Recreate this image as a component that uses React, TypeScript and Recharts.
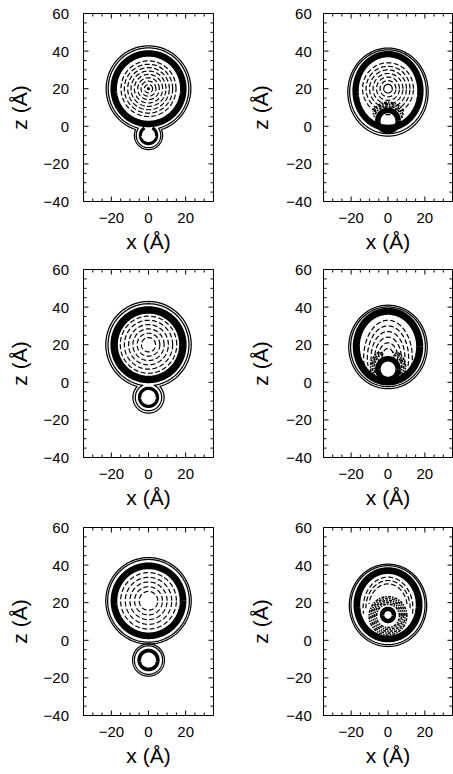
import React from 'react';
import { LineChart, Line, XAxis, YAxis } from 'recharts';

// ---- axes -------------------------------------------------------------
const X_DOMAIN: [number, number] = [-35, 35];
const Z_DOMAIN: [number, number] = [-40, 60];
const X_LABELED = [-20, 0, 20];
const X_TICKS = [-30, -25, -20, -15, -10, -5, 0, 5, 10, 15, 20, 25, 30];
const Z_LABELED = [-40, -20, 0, 20, 40, 60];
const Z_TICKS = [-40, -35, -30, -25, -20, -15, -10, -5, 0, 5, 10, 15, 20, 25, 30, 35, 40, 45, 50, 55, 60];
const X_TITLE = 'x (Å)';
const Z_TITLE = 'z (Å)';

// ---- contour geometry (Å) ---------------------------------------------
type Ring = { cx: number; cz: number; rx: number; rz: number; a0?: number; a1?: number };
type Band = Ring & { w: number };
type Pt = { x: number; z: number };

// panel a: droplet with a small attached bubble below
const A_OUTER: Ring[][] = [
  [{ cx: 0, cz: 20, rx: 22.8, rz: 22.8 }, { cx: 0, cz: -4.8, rx: 7.6, rz: 7.6 }],
  [{ cx: 0, cz: 20, rx: 21.7, rz: 21.7 }, { cx: 0, cz: -4.8, rx: 6.6, rz: 6.6 }],
];
const A_BANDS: Band[] = [
  { cx: 0, cz: 20, rx: 18.75, rz: 18.75, w: 3.5 },
  { cx: 0, cz: -4.8, rx: 4.4, rz: 4.4, w: 1.7, a0: 118, a1: 422 },
];
const A_DASHED_R = [2.2, 4.0, 5.8, 7.6, 9.4, 11.2, 13.0, 14.8];
const A_CENTER: Pt = { x: 0, z: 20 };

// panel b: bubble drawn into the droplet
const B_OUTER: Ring[][] = [
  [{ cx: 0, cz: 18.2, rx: 21.8, rz: 23.4 }],
  [{ cx: 0, cz: 18.4, rx: 20.8, rz: 22.3 }],
];
const B_BANDS: Band[] = [
  { cx: 0, cz: 18.8, rx: 17.6, rz: 19.6, w: 3.4 },
  { cx: 0, cz: 3, rx: 5.5, rz: 5.5, w: 3 },
];
const B_DASHED_R = [4.3, 6.2, 8.1, 10.0, 11.9, 13.8];
const B_SOLID_R = [2.3];
const B_HATCH: Ring[] = [
  { cx: 0, cz: 3, rx: 7.8, rz: 7.8, a0: 10, a1: 170 },
  { cx: 0, cz: 3, rx: 8.8, rz: 8.8, a0: 20, a1: 160 },
  { cx: 0, cz: 3, rx: 9.8, rz: 9.8, a0: 30, a1: 150 },
];

// panel c: droplet and separated bubble touching through a neck
const C_OUTER: Ring[][] = [
  [{ cx: 0, cz: 20, rx: 23, rz: 23 }, { cx: 0, cz: -8, rx: 8.4, rz: 8.4 }],
  [{ cx: 0, cz: 20, rx: 21.8, rz: 21.8 }, { cx: 0, cz: -8, rx: 7.1, rz: 7.1 }],
];
const C_BANDS: Band[] = [
  { cx: 0, cz: 20, rx: 18.5, rz: 18.5, w: 4 },
  { cx: 0, cz: -8, rx: 4.8, rz: 4.8, w: 1.8 },
];
const C_DASHED_R = [3.8, 6.1, 8.4, 10.7, 13.0, 15.2];

// panel d: bubble deeper inside the droplet
const D_OUTER: Ring[][] = [
  [{ cx: 0, cz: 18.8, rx: 21.3, rz: 22.2 }],
  [{ cx: 0, cz: 18.9, rx: 20.3, rz: 21.2 }],
];
const D_BANDS: Band[] = [
  { cx: 0, cz: 19, rx: 17.2, rz: 18.8, w: 3.8 },
  { cx: 0, cz: 7, rx: 5.5, rz: 5.5, w: 3 },
];
const D_ARCHES: Ring[] = [
  { cx: 0, cz: 13, rx: 3.2, rz: 5, a0: -15, a1: 195 },
  { cx: 0, cz: 13, rx: 5.2, rz: 8, a0: -15, a1: 195 },
  { cx: 0, cz: 13, rx: 7.2, rz: 11, a0: -15, a1: 195 },
  { cx: 0, cz: 13, rx: 9.2, rz: 14, a0: -15, a1: 195 },
  { cx: 0, cz: 13, rx: 11.2, rz: 17, a0: -15, a1: 195 },
  { cx: 0, cz: 13, rx: 13.2, rz: 20, a0: -15, a1: 195 },
];
const D_HATCH: Ring[] = [
  { cx: 0, cz: 8, rx: 7.5, rz: 7.5, a0: -30, a1: 70 },
  { cx: 0, cz: 8, rx: 8.5, rz: 8.5, a0: -30, a1: 70 },
  { cx: 0, cz: 8, rx: 9.5, rz: 9.5, a0: -20, a1: 60 },
  { cx: 0, cz: 8, rx: 7.5, rz: 7.5, a0: 110, a1: 210 },
  { cx: 0, cz: 8, rx: 8.5, rz: 8.5, a0: 110, a1: 210 },
  { cx: 0, cz: 8, rx: 9.5, rz: 9.5, a0: 120, a1: 200 },
];

// panel e: droplet and detached bubble
const E_OUTER: Ring[][] = [
  [{ cx: 0, cz: 21, rx: 23, rz: 23 }],
  [{ cx: 0, cz: 21, rx: 22, rz: 22 }],
  [{ cx: 0, cz: -10.5, rx: 8.6, rz: 8.6 }],
  [{ cx: 0, cz: -10.5, rx: 7.6, rz: 7.6 }],
];
const E_BANDS: Band[] = [
  { cx: 0, cz: 21, rx: 18.6, rz: 18.6, w: 3.6 },
  { cx: 0, cz: -10.5, rx: 5, rz: 5, w: 2 },
];
const E_DASHED_R = [5, 7.5, 10, 12.5, 15];
const E_CENTER: Pt = { x: 0, z: 21 };

// panel f: bubble trapped near the droplet centre
const F_OUTER: Ring[][] = [
  [{ cx: 0, cz: 18.6, rx: 21, rz: 21.9 }],
  [{ cx: 0, cz: 18.7, rx: 20.1, rz: 21 }],
];
const F_BANDS: Band[] = [
  { cx: 0, cz: 18.9, rx: 16.9, rz: 18.2, w: 3.6 },
  { cx: 0, cz: 13.5, rx: 3.2, rz: 3.2, w: 2.4 },
];
const F_DASHED: Ring[] = [
  { cx: 0, cz: 17, rx: 10.5, rz: 13, a0: 10, a1: 170 },
  { cx: 0, cz: 17, rx: 12, rz: 14.8, a0: 0, a1: 180 },
  { cx: 0, cz: 17, rx: 13.5, rz: 16.6, a0: -10, a1: 190 },
];
const F_HATCH_R = [6.2, 7.2, 8.2, 9.2, 10.2];
const F_HATCH_CENTER: Pt = { x: 0, z: 13 };

// ---- layout (px) ------------------------------------------------------
const PLOT_H = 188;
const AXIS_W = 83.5;
const TOP_PAD = 13.5;
const BOTTOM_H = 55;
const RIGHT_PAD = 13;
const EDGE = 1; // thickness reserved for the mirrored top / right axes
const PX = 1.87;
const ROW_TOPS = [0, 256, 514];
const COLS = [
  { left: 0, plotW: 130, tickGap: 14.5, titleGap: 56.8 },
  { left: 240, plotW: 129, tickGap: 11.7, titleGap: 55.2 },
];
const FONT = '"Liberation Sans", Arial, Helvetica, sans-serif';

// ---- geometry helpers ---------------------------------------------------
const ringPoints = (r: Ring, n = 160): Pt[] => {
  const a0 = r.a0 ?? 0;
  const a1 = r.a1 ?? 360;
  const pts: Pt[] = [];
  for (let i = 0; i <= n; i++) {
    const t = ((a0 + ((a1 - a0) * i) / n) * Math.PI) / 180;
    pts.push({ x: r.cx + r.rx * Math.cos(t), z: r.cz + r.rz * Math.sin(t) });
  }
  return pts;
};

const inside = (r: Ring, p: Pt) => ((p.x - r.cx) / r.rx) ** 2 + ((p.z - r.cz) / r.rz) ** 2 < 1;

// outline of a union of overlapping ellipses, traced by rays from a shared inner point
const unionPoints = (parts: Ring[], n = 240): Pt[] => {
  if (parts.length === 1) return ringPoints(parts[0], n);
  const a = parts[0];
  const b = parts[1];
  const hits: Pt[] = [];
  for (let i = 0; i <= 400; i++) {
    const p = { x: a.cx + ((b.cx - a.cx) * i) / 400, z: a.cz + ((b.cz - a.cz) * i) / 400 };
    if (parts.every((r) => inside(r, p))) hits.push(p);
  }
  const o = hits[Math.floor(hits.length / 2)];
  const pts: Pt[] = [];
  for (let i = 0; i <= n; i++) {
    const phi = (2 * Math.PI * i) / n;
    const dx = Math.cos(phi);
    const dz = Math.sin(phi);
    let best = 0;
    for (const r of parts) {
      const ox = (o.x - r.cx) / r.rx;
      const oz = (o.z - r.cz) / r.rz;
      const ux = dx / r.rx;
      const uz = dz / r.rz;
      const A = ux * ux + uz * uz;
      const B = 2 * (ox * ux + oz * uz);
      const C = ox * ox + oz * oz - 1;
      const disc = B * B - 4 * A * C;
      if (disc < 0) continue;
      const t = (-B + Math.sqrt(disc)) / (2 * A);
      if (t > best) best = t;
    }
    pts.push({ x: o.x + best * dx, z: o.z + best * dz });
  }
  return pts;
};

const circlesAt = (c: Pt, radii: number[]): Ring[] => radii.map((r) => ({ cx: c.x, cz: c.z, rx: r, rz: r }));

type Stroke = { pts: Pt[]; width: number; dash?: string };

type PanelSpec = {
  outer: Ring[][];
  bands: Band[];
  dashed: Ring[];
  solid: Ring[];
  hatch: Ring[];
  dots: Pt[];
};

const PANELS: PanelSpec[] = [
  { outer: A_OUTER, bands: A_BANDS, dashed: circlesAt(A_CENTER, A_DASHED_R), solid: [], hatch: [], dots: [A_CENTER] },
  { outer: B_OUTER, bands: B_BANDS, dashed: circlesAt({ x: 0, z: 20 }, B_DASHED_R), solid: circlesAt({ x: 0, z: 20 }, B_SOLID_R), hatch: B_HATCH, dots: [] },
  { outer: C_OUTER, bands: C_BANDS, dashed: circlesAt({ x: 0, z: 20 }, C_DASHED_R), solid: [], hatch: [], dots: [] },
  { outer: D_OUTER, bands: D_BANDS, dashed: D_ARCHES, solid: [], hatch: D_HATCH, dots: [] },
  { outer: E_OUTER, bands: E_BANDS, dashed: circlesAt(E_CENTER, E_DASHED_R), solid: [], hatch: [], dots: [] },
  { outer: F_OUTER, bands: F_BANDS, dashed: F_DASHED, solid: [], hatch: circlesAt(F_HATCH_CENTER, F_HATCH_R), dots: [] },
];

const strokesOf = (s: PanelSpec): Stroke[] => [
  ...s.outer.map((c) => ({ pts: unionPoints(c), width: 1.25 })),
  ...s.bands.map((b) => ({ pts: ringPoints(b), width: b.w * PX })),
  ...s.dashed.map((r) => ({ pts: ringPoints(r), width: 1.2, dash: '5 2.4' })),
  ...s.solid.map((r) => ({ pts: ringPoints(r), width: 1.2 })),
  ...s.hatch.map((r) => ({ pts: ringPoints(r), width: 1.6, dash: '3 1.2 1.5 1' })),
  ...s.dots.map((d) => ({ pts: ringPoints({ cx: d.x, cz: d.z, rx: 0.35, rz: 0.35 }, 16), width: 1.8 })),
];

// ---- axis ticks ---------------------------------------------------------
const fmt = (v: number) => (v < 0 ? `\u2212${Math.abs(v)}` : `${v}`);

const BottomTick = (props: any) => {
  const { x, y, payload } = props;
  const major = X_LABELED.includes(payload.value);
  return (
    <g>
      <line x1={x} y1={y} x2={x} y2={y - (major ? 5 : 3)} stroke="#000" strokeWidth={1} />
      {major && (
        <text x={x} y={y + 21} textAnchor="middle" fontSize={15} fontFamily={FONT} fill="#000">
          {fmt(payload.value)}
        </text>
      )}
    </g>
  );
};

const TopTick = (props: any) => {
  const { x, y, payload } = props;
  const major = X_LABELED.includes(payload.value);
  return <line x1={x} y1={y} x2={x} y2={y + (major ? 5 : 3)} stroke="#000" strokeWidth={1} />;
};

const LeftTick = (props: any) => {
  const { x, y, payload, gap } = props;
  const major = Z_LABELED.includes(payload.value);
  return (
    <g>
      <line x1={x} y1={y} x2={x + (major ? 5 : 3)} y2={y} stroke="#000" strokeWidth={1} />
      {major && (
        <text x={x - gap} y={y} dy="0.36em" textAnchor="end" fontSize={15} fontFamily={FONT} fill="#000">
          {fmt(payload.value)}
        </text>
      )}
    </g>
  );
};

const RightTick = (props: any) => {
  const { x, y, payload } = props;
  const major = Z_LABELED.includes(payload.value);
  return <line x1={x} y1={y} x2={x - (major ? 5 : 3)} y2={y} stroke="#000" strokeWidth={1} />;
};

// ---- one contour panel ----------------------------------------------------
const Panel = ({ spec, row, col }: { spec: PanelSpec; row: number; col: number }) => {
  const c = COLS[col];
  const width = AXIS_W + c.plotW + RIGHT_PAD;
  const height = TOP_PAD + PLOT_H + BOTTOM_H;
  const strokes = strokesOf(spec);
  const xTitle = () => (
    <text x={AXIS_W + c.plotW / 2} y={TOP_PAD + PLOT_H + 47} textAnchor="middle" fontSize={21} fontFamily={FONT} fill="#000">
      {X_TITLE}
    </text>
  );
  const zx = AXIS_W - c.titleGap;
  const zy = TOP_PAD + PLOT_H / 2;
  const zTitle = () => (
    <text x={zx} y={zy} transform={`rotate(-90 ${zx} ${zy})`} textAnchor="middle" fontSize={21} fontFamily={FONT} fill="#000">
      {Z_TITLE}
    </text>
  );
  return (
    <div style={{ position: 'absolute', left: c.left, top: ROW_TOPS[row] }}>
      <LineChart
        width={width}
        height={height}
        margin={{ top: TOP_PAD - EDGE, right: RIGHT_PAD - EDGE, left: 0, bottom: 0 }}
      >
        <XAxis
          xAxisId="b"
          type="number"
          dataKey="x"
          domain={X_DOMAIN}
          allowDataOverflow
          ticks={X_TICKS}
          interval={0}
          tickSize={0}
          tickMargin={0}
          tickLine={false}
          tick={<BottomTick />}
          axisLine={{ stroke: '#000', strokeWidth: 1 }}
          height={BOTTOM_H}
          label={xTitle}
        />
        <XAxis
          xAxisId="t"
          orientation="top"
          type="number"
          dataKey="x"
          domain={X_DOMAIN}
          allowDataOverflow
          ticks={X_TICKS}
          interval={0}
          tickSize={0}
          tickMargin={0}
          tickLine={false}
          tick={<TopTick />}
          axisLine={{ stroke: '#000', strokeWidth: 1 }}
          height={EDGE}
        />
        <YAxis
          yAxisId="l"
          type="number"
          domain={Z_DOMAIN}
          allowDataOverflow
          ticks={Z_TICKS}
          interval={0}
          tickSize={0}
          tickMargin={0}
          tickLine={false}
          tick={<LeftTick gap={c.tickGap} />}
          axisLine={{ stroke: '#000', strokeWidth: 1 }}
          width={AXIS_W}
          label={zTitle}
        />
        <YAxis
          yAxisId="r"
          orientation="right"
          type="number"
          domain={Z_DOMAIN}
          allowDataOverflow
          ticks={Z_TICKS}
          interval={0}
          tickSize={0}
          tickMargin={0}
          tickLine={false}
          tick={<RightTick />}
          axisLine={{ stroke: '#000', strokeWidth: 1 }}
          width={EDGE}
        />
        {strokes.map((s, i) => (
          <Line
            key={i}
            xAxisId="b"
            yAxisId="l"
            data={s.pts}
            dataKey="z"
            type="linear"
            stroke="#000"
            strokeWidth={s.width}
            strokeDasharray={s.dash}
            strokeLinejoin="round"
            dot={false}
            activeDot={false}
            legendType="none"
            isAnimationActive={false}
          />
        ))}
      </LineChart>
    </div>
  );
};

export default function App() {
  return (
    <div style={{ position: 'absolute', left: 0, top: 0, width: 453, height: 774, overflow: 'hidden', background: '#fff' }}>
      {PANELS.map((p, i) => (
        <Panel key={i} spec={p} row={Math.floor(i / 2)} col={i % 2} />
      ))}
    </div>
  );
}
